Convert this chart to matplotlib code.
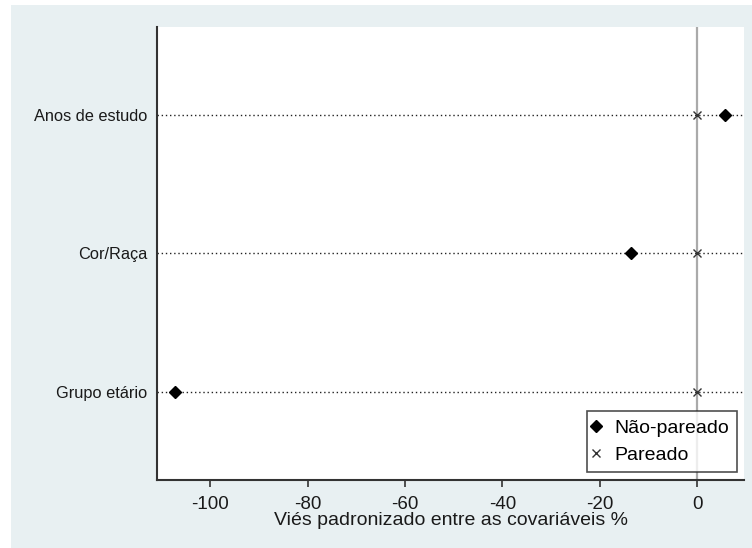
import matplotlib
matplotlib.use("Agg")
import matplotlib.pyplot as plt
from matplotlib.patches import Rectangle

plt.rcParams['font.family'] = ['Liberation Sans', 'DejaVu Sans']
plt.rcParams['axes.unicode_minus'] = False

covariaveis = ['Grupo etário', 'Cor/Raça', 'Anos de estudo']
nao_pareado = [-107.2, -13.6, 5.8]
pareado = [0.0, 0.0, 0.0]

fig = plt.figure(figsize=(7.52, 5.48), dpi=100, facecolor='white')
# Stata-style light backdrop behind the plot region
fig.add_artist(Rectangle((11 / 752, 0), 1, 543 / 548, transform=fig.transFigure,
                         facecolor='#e8f0f2', edgecolor='none', zorder=-5))

ax = fig.add_axes([157 / 752, 68 / 548, 587 / 752, 453 / 548])
ax.set_facecolor('white')

ypos = list(range(1, len(covariaveis) + 1))
for y in ypos:
    ax.axhline(y, color='#222222', ls=(0, (1, 2)), lw=1.0, zorder=1)
ax.axvline(0, color='#aaaaaa', lw=1.6, zorder=2)

ax.plot(nao_pareado, ypos, 'D', color='black', ms=6.5, ls='none', zorder=4,
        label='Não-pareado')
ax.plot(pareado, ypos, 'x', color='#333333', ms=6, mew=1.0, ls='none', zorder=3,
        label='Pareado')

ax.set_xlim(-110.9, 9.6)
ax.set_ylim(0.365, 3.635)
ax.set_xticks([-100, -80, -60, -40, -20, 0])
ax.set_yticks(ypos)
ax.set_yticklabels(covariaveis)

for s in ['top', 'right']:
    ax.spines[s].set_visible(False)
for s in ['left', 'bottom']:
    ax.spines[s].set_color('#333333')
    ax.spines[s].set_linewidth(1.5)

ax.tick_params(axis='x', length=5, width=1.2, color='#333333', labelsize=13.5,
               labelcolor='#1a1a1a', pad=6.5)
ax.tick_params(axis='y', length=0, labelsize=11.8, labelcolor='#1a1a1a', pad=7)
ax.set_xlabel('Viés padronizado entre as covariáveis %', fontsize=14,
              color='#1a1a1a', labelpad=-0.5)

leg = ax.legend(loc='lower right', fontsize=14, frameon=True, fancybox=False,
                handlelength=0.1, handletextpad=0.89, borderpad=0.4,
                labelspacing=0.5, borderaxespad=0,
                bbox_to_anchor=(0.988, 0.0177))
leg.get_frame().set_edgecolor('#222222')
leg.get_frame().set_linewidth(1.2)

fig.savefig('out.png', dpi=100, facecolor=fig.get_facecolor())
